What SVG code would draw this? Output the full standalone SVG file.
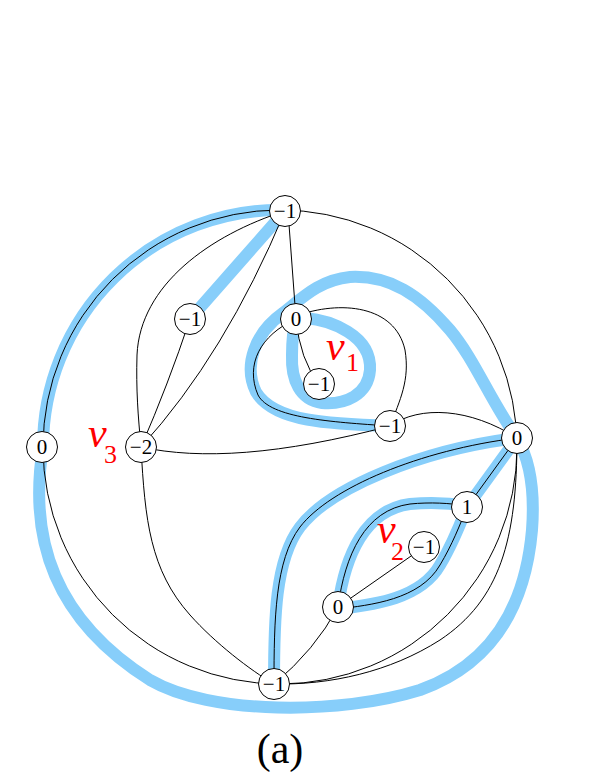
<svg xmlns="http://www.w3.org/2000/svg" width="599" height="776" viewBox="0 0 599 776">
<style>
.e{fill:none;stroke:#000;stroke-width:1}
.b{fill:none;stroke:#87CEFA;stroke-width:12;stroke-linecap:round;stroke-linejoin:round}
.n circle{fill:#fff;stroke:#000;stroke-width:1}
</style>
<rect width="599" height="776" fill="#fff"/>
<g id="highlights">
<path class="b" d="M285,211 L190,319" stroke-width="13"/>
<path class="b" d="M285,210 A237,237 0 0 0 43,447 C28,540 55,620 150,680 C210,715 340,715 420,690 C490,665 525,610 532,530 C535,490 530,460 517,438"/>
<path class="b" d="M390,426 C330,424 274,422 256,392 C243,365 255,333 283,313 C303,297 320,280 350,277 C390,275 420,295 450,330 C475,360 490,400 517,438"/>
<path class="b" d="M305,318 C330,320 372,335 370,370 C368,395 345,405 322,403 C300,400 291,380 292,355 C292,340 293,330 296,319"/>
<path class="b" d="M274,684 C274,620 275,560 300,527 C330,488 420,450 517,438"/>
<path class="b" d="M338,607 C345,555 365,510 410,504 C430,502 450,503 467,506"/>
<path class="b" d="M338,609 C370,605 420,600 440,565 C452,545 460,525 467,507"/>
<path class="b" d="M467,507 L517,438"/>
</g>
<g id="connectors">
<circle class="e" cx="280" cy="447" r="237"/>
<path class="e" d="M285,211 C210,235 140,285 137,355 C136,390 138,415 141,447"/>
<path class="e" d="M285,211 Q225,355 141,447"/>
<path class="e" d="M190,319 Q168,385 141,447"/>
<path class="e" d="M288,211 L296,319"/>
<path class="e" d="M296,319 Q300,360 319,384"/>
<path class="e" d="M296,316 C340,300 395,305 405,350 C410,380 400,400 390,426"/>
<path class="e" d="M296,319 C260,335 245,365 258,395 C270,418 330,422 390,426"/>
<path class="e" d="M390,426 C420,405 470,408 517,438"/>
<path class="e" d="M141,447 C200,460 280,455 390,426"/>
<path class="e" d="M141,447 C145,520 150,570 190,615 C215,643 250,670 274,684"/>
<path class="e" d="M274,684 Q315,650 338,607"/>
<path class="e" d="M338,607 L424,547"/>
<path class="e" d="M338,607 C345,555 365,510 410,504 C430,502 450,503 467,506"/>
<path class="e" d="M338,609 C370,605 420,600 440,565 C452,545 460,525 467,507"/>
<path class="e" d="M467,507 L517,438"/>
<path class="e" d="M274,684 C274,620 275,560 300,527 C330,488 420,450 517,438"/>
<path class="e" d="M517,438 C517,540 500,600 440,640 C390,672 330,685 274,684"/>
</g>
<g id="nA" class="n"><circle cx="285" cy="211" r="15.5"/><text x="285" y="218" font-family="Liberation Serif, serif" font-size="21" text-anchor="middle">−1</text></g>
<g id="nB" class="n"><circle cx="190" cy="319" r="15.5"/><text x="190" y="326" font-family="Liberation Serif, serif" font-size="21" text-anchor="middle">−1</text></g>
<g id="nC" class="n"><circle cx="296" cy="319" r="15.5"/><text x="296" y="326" font-family="Liberation Serif, serif" font-size="21" text-anchor="middle">0</text></g>
<g id="nD" class="n"><circle cx="319" cy="384" r="15.5"/><text x="319" y="391" font-family="Liberation Serif, serif" font-size="21" text-anchor="middle">−1</text></g>
<g id="nE" class="n"><circle cx="390" cy="426" r="15.5"/><text x="390" y="433" font-family="Liberation Serif, serif" font-size="21" text-anchor="middle">−1</text></g>
<g id="nF" class="n"><circle cx="517" cy="438" r="15.5"/><text x="517" y="445" font-family="Liberation Serif, serif" font-size="21" text-anchor="middle">0</text></g>
<g id="nG" class="n"><circle cx="42" cy="447" r="15.5"/><text x="42" y="454" font-family="Liberation Serif, serif" font-size="21" text-anchor="middle">0</text></g>
<g id="nH" class="n"><circle cx="141" cy="447" r="15.5"/><text x="141" y="454" font-family="Liberation Serif, serif" font-size="21" text-anchor="middle">−2</text></g>
<g id="nI" class="n"><circle cx="467" cy="507" r="15.5"/><text x="467" y="514" font-family="Liberation Serif, serif" font-size="21" text-anchor="middle">1</text></g>
<g id="nJ" class="n"><circle cx="424" cy="547" r="15.5"/><text x="424" y="554" font-family="Liberation Serif, serif" font-size="21" text-anchor="middle">−1</text></g>
<g id="nK" class="n"><circle cx="338" cy="607" r="15.5"/><text x="338" y="614" font-family="Liberation Serif, serif" font-size="21" text-anchor="middle">0</text></g>
<g id="nL" class="n"><circle cx="274" cy="684" r="15.5"/><text x="274" y="691" font-family="Liberation Serif, serif" font-size="21" text-anchor="middle">−1</text></g>
<g id="labels">
<text x="326" y="360" font-family="Liberation Serif, serif" font-size="42" font-style="italic" fill="#f00">v</text>
<text x="346" y="371" font-family="Liberation Serif, serif" font-size="26" fill="#f00">1</text>
<text x="88" y="447" font-family="Liberation Serif, serif" font-size="42" font-style="italic" fill="#f00">v</text>
<text x="104" y="463" font-family="Liberation Serif, serif" font-size="26" fill="#f00">3</text>
<text x="377" y="543" font-family="Liberation Serif, serif" font-size="42" font-style="italic" fill="#f00">v</text>
<text x="391" y="560" font-family="Liberation Serif, serif" font-size="26" fill="#f00">2</text>
</g>
<text x="280" y="763" font-family="Liberation Serif, serif" font-size="42" text-anchor="middle">(a)</text>
</svg>
